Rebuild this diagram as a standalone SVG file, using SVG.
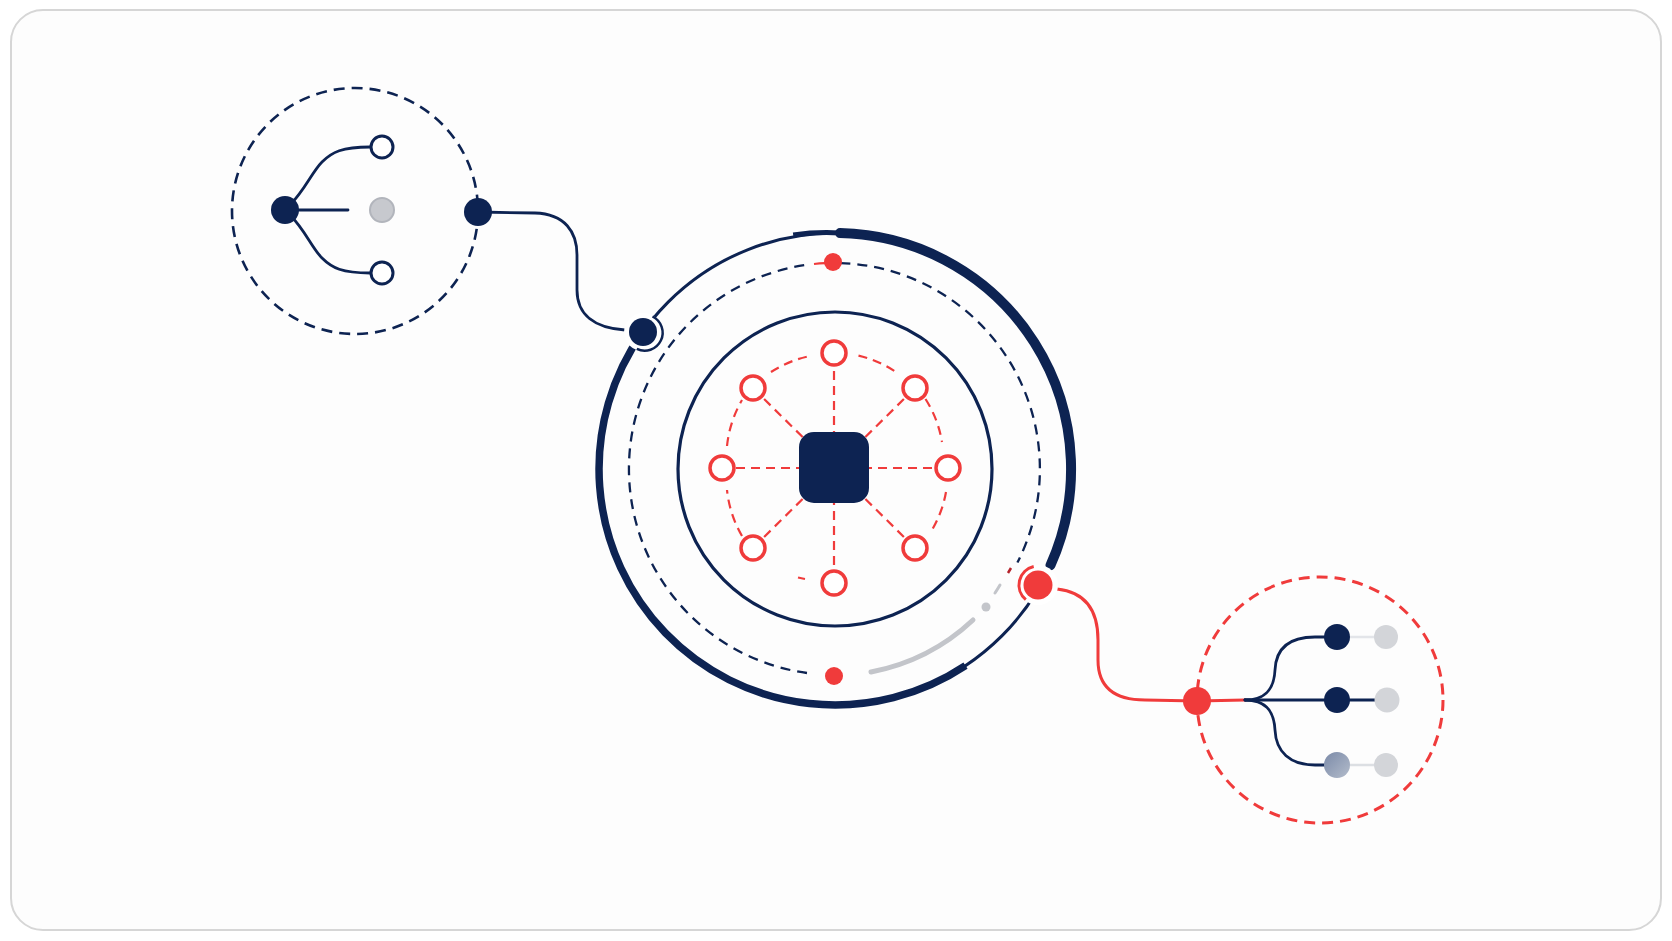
<svg xmlns="http://www.w3.org/2000/svg" width="1672" height="941" viewBox="0 0 1672 941">
<defs>
<style>
.navy{fill:#0d2352}
.red{fill:#f03b3b}
.ln{fill:none;stroke:#0d2352;stroke-width:2.8;stroke-linecap:round}
.rln{fill:none;stroke:#f03b3b;stroke-width:3;stroke-linecap:round}
.ndash{fill:none;stroke:#0d2352;stroke-width:2.3;stroke-dasharray:10 7}
.rdash{fill:none;stroke:#f03b3b;stroke-width:2.2;stroke-dasharray:9 6}
.ring{fill:#fff;stroke:#f03b3b;stroke-width:3.5}
.grey{fill:#d3d5d9}
</style>
<linearGradient id="fade" x1="0" y1="0" x2="1" y2="1">
<stop offset="0" stop-color="#7b8aa8"/>
<stop offset="1" stop-color="#b3bccb"/>
</linearGradient>
</defs>
<rect x="11" y="10" width="1650" height="920" rx="32" fill="#fdfdfd" stroke="#d6d6d6" stroke-width="2"/>

<g id="connectors">
<path class="ln" d="M478,212 L535,213 C565,214 577,232 577,255 L577,290 C577,315 595,328 625,330 L643,332"/>
<path class="rln" d="M1038,587 L1057,589 C1085,592 1098,610 1098,640 L1098,660 C1098,688 1115,700 1145,700 L1197,701"/>
</g>

<g id="left-panel">
<circle cx="355" cy="211" r="123" fill="none" stroke="#0d2352" stroke-width="2.6" stroke-dasharray="11 7"/>
<path class="ln" d="M285,210 L348,210"/>
<path class="ln" d="M290,205 C305,190 312,172 322,162 C332,152 342,147 370,147"/>
<path class="ln" d="M290,215 C305,230 312,248 322,258 C332,268 342,273 370,273"/>
<circle class="navy" cx="285" cy="210" r="14"/>
<circle cx="382" cy="147" r="11" fill="#fff" stroke="#0d2352" stroke-width="3"/>
<circle cx="382" cy="273" r="11" fill="#fff" stroke="#0d2352" stroke-width="3"/>
<circle cx="382" cy="210" r="12" fill="#c7c9ce" stroke="#b2b5bc" stroke-width="2"/>
<circle class="navy" cx="478" cy="212" r="14"/>
</g>

<g id="hub">
<circle cx="835" cy="469" r="236" fill="none" stroke="#0d2352" stroke-width="3"/>
<path d="M965.5,665.6 A236,236 0 0 1 642.9,331.9" fill="none" stroke="#0d2352" stroke-width="7.5"/>
<path d="M793.2,235 A236,236 0 0 1 840,233" fill="none" stroke="#0d2352" stroke-width="5"/>
<path d="M840,233 A236,236 0 0 1 1050.5,565.3" fill="none" stroke="#0d2352" stroke-width="10" stroke-linecap="round"/>

<path class="ndash" d="M840.5,263.1 A206,206 0 0 1 1017.4,562.6"/>
<path d="M1011,568 A206,206 0 0 1 1008,573" fill="none" stroke="#b5222b" stroke-width="2.5"/>
<path d="M1000,585 A206,206 0 0 1 995,593" fill="none" stroke="#c3c5ca" stroke-width="3" stroke-linecap="round"/>
<circle cx="986" cy="607" r="4.5" fill="#c3c5ca"/>
<path d="M973,620 A206,206 0 0 1 871,672" fill="none" stroke="#c3c5ca" stroke-width="5" stroke-linecap="round"/>
<path class="ndash" d="M807,673 A206,206 0 0 1 811,264.3"/>
<path d="M814,264 A206,206 0 0 1 825,263.2" fill="none" stroke="#f03b3b" stroke-width="2.2"/>
<circle class="red" cx="833" cy="262" r="9"/>
<circle class="red" cx="834" cy="676" r="9"/>

<circle cx="835" cy="469" r="157" fill="none" stroke="#0d2352" stroke-width="3.2"/>

<g>
<path class="rdash" d="M834,455 L834,366 M834,481 L834,570 M848,468 L935,468 M820,468 L735,468 M844,458 L906,397 M824,458 L762,397 M844,478 L906,539 M824,478 L762,539"/>
<path class="rdash" d="M858.5,355.6 A115,115 0 0 1 896,372"/>
<path class="rdash" d="M925.5,399 A115,115 0 0 1 942,442"/>
<path class="rdash" d="M946,492 A115,115 0 0 1 932,530"/>
<path class="rdash" d="M805,579 A115,115 0 0 1 798,577.5"/>
<path class="rdash" d="M742,536 A115,115 0 0 1 727,490"/>
<path class="rdash" d="M727,446 A115,115 0 0 1 742,400"/>
<path class="rdash" d="M771,372 A115,115 0 0 1 810,356"/>
</g>
<rect class="navy" x="799" y="432" width="70" height="71" rx="15"/>
<circle class="ring" cx="834" cy="353" r="12"/>
<circle class="ring" cx="915" cy="388" r="12"/>
<circle class="ring" cx="948" cy="468" r="12"/>
<circle class="ring" cx="915" cy="548" r="12"/>
<circle class="ring" cx="834" cy="583" r="12"/>
<circle class="ring" cx="753" cy="548" r="12"/>
<circle class="ring" cx="722" cy="468" r="12"/>
<circle class="ring" cx="753" cy="388" r="12"/>
</g>

<g id="port-left">
<circle cx="643" cy="332" r="19" fill="#fff"/>
<circle class="navy" cx="643" cy="332" r="14"/>
<path d="M652.5,316.5 A18,18 0 0 1 636.8,348.9" fill="none" stroke="#0d2352" stroke-width="2.5"/>
</g>

<g id="port-right">
<circle cx="1038" cy="585" r="20" fill="#fff"/>
<circle class="red" cx="1038" cy="585" r="14.5"/>
<path d="M1025.8,599.6 A19,19 0 0 1 1033.7,566.5" fill="none" stroke="#f03b3b" stroke-width="3"/>
</g>

<g id="right-panel">
<circle cx="1320" cy="700" r="123" fill="none" stroke="#f03b3b" stroke-width="3" stroke-dasharray="11 7"/>
<path class="rln" d="M1197,701 L1245,700"/>
<path class="ln" d="M1245,700 L1337,700"/>
<path class="ln" d="M1245,700 C1265,700 1274,690 1275,670 C1276,648 1290,637 1315,637 L1337,637"/>
<path class="ln" d="M1245,700 C1265,700 1274,710 1275,730 C1276,752 1290,765 1315,765 L1337,765"/>
<circle class="red" cx="1197" cy="701" r="14"/>
<path d="M1345,700 L1378,700" stroke="#0d2352" stroke-width="3"/>
<path d="M1350,637 L1378,637" stroke="#e3e5e9" stroke-width="2.5"/>
<path d="M1350,765 L1378,765" stroke="#dcdfe3" stroke-width="2.5"/>
<circle class="navy" cx="1337" cy="637" r="13"/>
<circle class="navy" cx="1337" cy="700" r="13"/>
<circle cx="1337" cy="765" r="13" fill="url(#fade)"/>
<circle class="grey" cx="1386" cy="637" r="12"/>
<circle class="grey" cx="1387" cy="700" r="12.5"/>
<circle class="grey" cx="1386" cy="765" r="12"/>
</g>
</svg>
